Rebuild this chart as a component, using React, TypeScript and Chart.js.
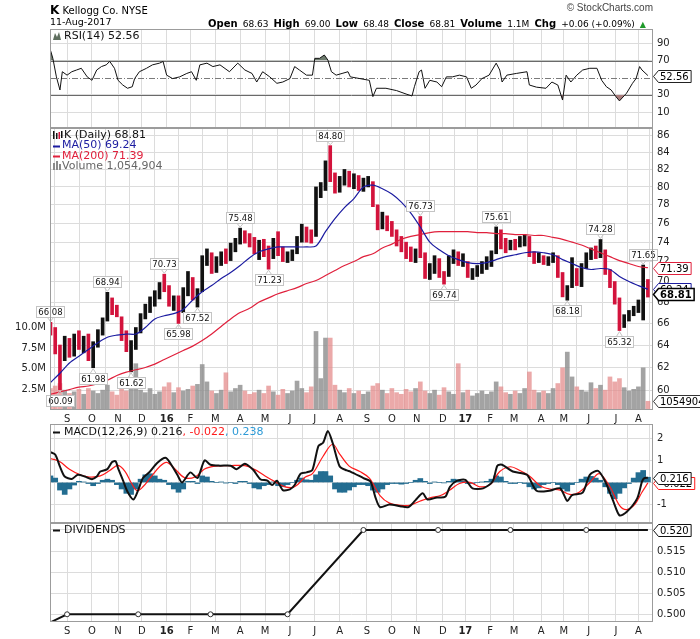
import React, { useEffect, useRef } from "react";
import { Chart, registerables } from "chart.js";

Chart.register(...registerables);

// ---------------- data ----------------
const MONTH_TICKS = [14, 35, 57, 77, 98, 118, 139, 160, 181, 202, 223, 244, 267, 288, 309, 331, 350, 371, 391, 414, 433, 454, 477, 496];
const MONTH_LABELS = ["S", "O", "N", "D", "16", "F", "M", "A", "M", "J", "J", "A", "S", "O", "N", "D", "17", "F", "M", "A", "M", "J", "J", "A"];
const X_MIN = -0.4;
const X_MAX = 508.3;

const BAR_STEP = 4; // trading days between plotted bars
const HIGHS = [
  66.08, 65.6, 64.0, 64.8, 64.6, 65.0, 65.3, 64.8, 65.0, 64.3,
  65.4, 66.5, 68.94, 68.4, 67.7, 66.6, 65.3, 64.4, 65.6, 66.9,
  67.8, 68.5, 69.1, 69.9, 70.73, 69.6, 68.6, 68.6, 69.4, 71.0,
  70.4, 69.3, 72.6, 73.3, 72.9, 72.5, 73.0, 73.3, 73.9, 74.4,
  75.48, 75.2, 74.9, 74.5, 74.2, 74.3, 73.6, 74.4, 75.1, 73.5,
  73.0, 73.2, 74.6, 75.9, 75.6, 75.3, 80.0, 80.5, 83.0, 84.8,
  81.6, 81.2, 82.0, 81.8, 81.5, 81.3, 81.0, 81.2, 80.6, 78.0,
  77.2, 76.8, 76.2, 75.3, 74.6, 74.0, 73.5, 73.3, 76.73, 72.9,
  71.8, 72.6, 72.3, 71.0, 72.6, 73.2, 73.0, 72.8, 72.0, 71.3,
  71.6, 72.0, 72.5, 73.1, 75.61, 75.3, 74.4, 74.2, 74.3, 74.6,
  74.8, 74.6, 73.0, 72.9, 72.6, 72.5, 72.9, 72.6, 70.9, 69.6,
  72.4, 71.3, 71.8, 72.9, 73.4, 73.6, 74.28, 73.2, 71.2, 70.0,
  68.4, 66.8, 67.2, 67.6, 68.2, 71.65, 70.2,
];
const LOWS = [
  64.9, 63.2, 60.09, 62.6, 62.9, 63.0, 63.6, 63.3, 62.6, 61.98,
  63.8, 64.9, 66.2, 66.8, 66.6, 64.4, 63.4, 61.62, 63.6, 65.1,
  66.4, 67.0, 67.6, 68.3, 69.0, 67.6, 67.2, 65.98, 67.0, 68.6,
  68.2, 67.52, 69.0, 71.6, 70.8, 70.9, 71.6, 71.8, 72.1, 73.0,
  73.8, 73.9, 73.5, 72.8, 72.2, 72.5, 71.23, 72.3, 72.6, 72.0,
  71.9, 72.1, 72.8, 74.0, 74.0, 73.9, 74.6, 78.8, 79.6, 80.6,
  79.3, 79.4, 80.2, 80.0, 79.8, 79.6, 79.5, 80.0, 77.8, 75.3,
  75.4, 75.2, 74.6, 73.6, 73.0, 72.3, 72.0, 71.9, 72.4, 70.3,
  70.2, 70.8, 70.4, 69.74, 70.5, 71.8, 71.6, 71.5, 70.4, 70.2,
  70.5, 70.8, 71.2, 71.5, 72.8, 73.3, 72.9, 73.2, 73.2, 73.5,
  73.6, 72.5, 71.8, 71.9, 71.7, 71.6, 71.9, 70.4, 68.5, 68.18,
  69.4, 69.6, 69.5, 71.3, 72.2, 72.3, 72.4, 70.7, 69.4, 67.8,
  65.32, 65.6, 66.2, 66.7, 67.0, 66.3, 68.48,
];
const CLOSES = [
  65.3, 63.6, 63.1, 64.0, 63.4, 64.6, 64.0, 64.4, 63.3, 64.1,
  65.2, 66.3, 68.2, 67.1, 67.0, 64.8, 63.8, 64.0, 65.3, 66.6,
  67.5, 68.2, 68.6, 69.5, 69.3, 68.0, 68.3, 67.4, 69.0, 70.3,
  68.6, 69.1, 72.2, 72.4, 71.4, 72.1, 72.6, 72.3, 73.6, 74.0,
  74.9, 74.4, 74.0, 73.1, 73.9, 72.8, 72.6, 74.0, 73.1, 72.4,
  72.7, 72.9, 74.3, 75.5, 74.6, 74.4, 79.5, 80.0, 82.6, 81.0,
  80.2, 80.7, 81.3, 80.5, 80.9, 80.2, 80.4, 80.6, 78.2, 75.8,
  76.4, 75.9, 75.0, 74.2, 73.4, 72.8, 72.4, 73.0, 72.8, 70.8,
  71.4, 72.2, 70.7, 70.6, 72.3, 72.7, 72.1, 72.4, 70.7, 71.0,
  71.3, 71.6, 72.2, 72.6, 74.8, 73.8, 73.5, 73.9, 73.7, 74.2,
  74.5, 72.8, 72.3, 72.5, 72.0, 72.1, 72.6, 70.8, 69.0, 69.3,
  71.0, 69.9, 71.5, 72.5, 73.0, 72.8, 73.1, 71.0, 69.8, 68.2,
  66.0, 66.5, 66.9, 67.3, 67.9, 70.5, 68.81,
];
// volume in millions of shares
const VOLUMES = [
  2.6, 2.9, 3.2, 2.4, 2.0, 2.2, 2.5, 1.9, 2.6, 2.3,
  2.0, 2.4, 3.0, 2.2, 1.8, 2.7, 2.3, 2.8, 5.6, 2.4,
  2.1, 2.6, 1.9, 2.2, 2.8, 3.3, 2.1, 2.7, 2.3, 2.5,
  2.9, 3.1, 5.5, 3.4, 2.3, 2.0, 2.4, 4.5, 2.2, 2.6,
  3.0, 2.3, 1.9, 2.1, 2.4, 2.0, 2.9, 2.2, 1.8, 2.5,
  2.0, 2.3, 3.5, 2.6, 2.1, 2.8, 9.5, 3.8, 8.7, 8.7,
  3.0, 2.4, 2.1, 2.6, 2.0, 2.3, 1.9, 2.2, 2.9, 3.2,
  2.4, 2.0, 2.6, 2.1, 1.9, 2.5, 2.2, 2.6, 3.4, 2.3,
  2.0, 2.4, 1.8, 2.7, 2.2, 1.9, 5.6, 2.1, 2.4, 1.7,
  2.0, 2.3, 1.9, 2.2, 3.4, 2.8, 2.1, 1.9, 2.3, 2.0,
  2.6, 4.6, 2.4, 2.1, 2.3, 2.0, 2.6, 3.2, 5.1, 7.0,
  4.0, 2.8, 2.4, 2.2, 3.3, 2.6, 3.0, 2.4, 4.0, 3.4,
  3.8, 2.7, 2.3, 2.5, 2.8, 5.1, 1.054904,
];

const MA_STEP = 8;
const MA50 = [
  60.7, 61.5, 62.4, 63.0, 63.6, 64.2, 64.7, 64.9, 65.0, 65.0,
  65.6, 66.4, 66.7, 66.9, 67.3, 68.2, 69.0, 69.6, 70.3, 70.9,
  71.6, 72.4, 73.0, 73.3, 73.5, 73.5, 73.5, 73.5, 73.6, 75.1,
  76.5, 77.7, 78.7, 80.0, 80.2, 79.8, 79.2, 78.3, 77.1, 75.6,
  74.0, 73.2, 72.6, 72.2, 71.9, 71.8, 71.9, 72.2, 72.5, 72.7,
  72.9, 73.0, 72.9, 72.7, 72.2, 71.8, 71.4, 71.2, 71.3, 71.2,
  70.5, 70.0, 69.6, 69.24,
];
const MA200 = [
  59.7, 59.9, 60.1, 60.3, 60.4, 60.6, 60.9, 61.3, 61.6, 61.8,
  62.0, 62.3, 62.7, 63.1, 63.5, 63.9, 64.4, 65.0, 65.7, 66.4,
  67.0, 67.4, 68.0, 68.4, 68.8, 69.1, 69.4, 69.8, 70.1, 70.6,
  71.1, 71.6, 72.0, 72.5, 72.8, 73.4, 73.8, 74.3, 74.6, 74.8,
  75.0, 75.1, 75.1, 75.1, 75.1, 75.0, 75.0, 74.9, 74.9, 74.8,
  74.8, 74.7, 74.7, 74.5, 74.3, 74.0, 73.7, 73.3, 72.9, 72.5,
  72.1, 71.8, 71.5, 71.39,
];
const PRICE_TICKS = [60, 62, 64, 66, 68, 70, 72, 74, 76, 78, 80, 82, 84, 86];
const VOL_TICKS = [2.5, 5, 7.5, 10];

const PEAK_BARS = [0, 2, 9, 12, 17, 24, 27, 31, 40, 46, 59, 78, 83, 94, 109, 116, 120, 125];
const PEAK_VALUES = [66.08, 60.09, 61.98, 68.94, 61.62, 70.73, 65.98, 67.52, 75.48, 71.23, 84.8, 76.73, 69.74, 75.61, 68.18, 74.28, 65.32, 71.65];
const PEAK_ABOVE = [true, false, false, true, false, true, false, false, true, false, true, true, false, true, false, true, false, true];

const RSI_X = [0, 2, 5, 8, 10, 14, 18, 22, 26, 31, 35, 39, 43, 47, 50, 54, 57, 61, 65, 69, 71, 75, 81, 86, 92, 95, 98, 103, 109, 115, 119, 123, 126, 132, 137, 143, 151, 158, 164, 170, 174, 179, 185, 191, 196, 202, 206, 210, 216, 221, 223, 227, 231, 234, 237, 241, 246, 251, 253, 261, 269, 272, 275, 283, 292, 300, 305, 307, 311, 313, 316, 320, 326, 330, 334, 339, 345, 351, 355, 359, 364, 370, 376, 379, 381, 385, 393, 402, 404, 410, 418, 423, 428, 432, 435, 439, 444, 449, 455, 461, 465, 469, 473, 477, 480, 486, 491, 494, 497, 499, 504];
const RSI_V = [82, 72.6, 51, 35.7, 57, 53, 57, 59, 61, 51, 47, 59, 63, 65, 69, 61, 47, 41.5, 37.7, 39.5, 49, 57, 61, 65, 67, 69, 53, 49, 51, 55, 57, 47, 65, 67, 63, 65, 57, 67, 59, 55, 45, 57, 51, 43.5, 45, 49, 63, 59, 53, 53, 72.6, 72.6, 76.5, 70.7, 57, 53, 55, 57, 51, 49, 47, 28, 37.7, 37.7, 35, 31, 28.7, 39.5, 57, 59, 37.7, 47, 45, 39.5, 51, 51, 53, 51, 37.7, 41.5, 49, 53, 67, 59, 45, 53, 55, 57, 41.5, 39, 37.7, 45, 41.5, 24, 53, 45, 53, 59, 61, 61, 47, 39.5, 35.7, 28, 23, 32, 43.5, 49, 63, 59, 52.56];
const RSI_TICKS = [10, 30, 70, 90];

const MACD_X = [0, 4, 8, 12, 18, 23, 29, 35, 39, 42, 48, 52, 55, 57, 61, 65, 70, 74, 78, 84, 90, 97, 101, 107, 111, 118, 124, 130, 135, 143, 152, 157, 164, 171, 177, 183, 187, 191, 196, 202, 206, 211, 216, 221, 226, 230, 234, 238, 244, 250, 253, 264, 270, 274, 278, 286, 295, 302, 308, 314, 318, 326, 333, 337, 343, 350, 356, 365, 373, 377, 381, 390, 402, 410, 421, 430, 436, 440, 449, 455, 462, 468, 475, 480, 486, 495, 499, 501, 504];
const MACD_V = [1.39, 1.28, 0.73, 0.27, 0.16, 0.35, 0.27, 0.15, 0.27, 0.5, 0.61, 0.94, 0.97, 0.66, 0.12, -0.43, -0.78, -0.35, 0.2, 0.5, 0.89, 1.13, 0.89, 0.35, 0.0, 0.46, 0.2, 1.01, 0.81, 0.77, 0.77, 0.61, 0.86, 0.58, 0.15, 0.08, -0.12, 0.08, -0.35, -0.32, -0.12, 0.4, 0.46, 0.58, 1.67, 1.82, 2.36, 1.82, 0.73, 0.55, 0.5, 0.2, 0.04, -0.66, -1.13, -1.01, -1.09, -1.13, -0.81, -0.5, -0.78, -0.69, -0.66, -0.2, 0.08, 0.12, -0.27, -0.27, 0.04, 0.77, 0.81, 0.5, 0.35, -0.38, -0.38, -0.27, -0.85, -0.58, -0.47, 0.35, 0.53, 0.04, -0.89, -1.51, -1.36, -0.73, 0.04, 0.2, 0.216];
const SIG_X = [0, 8, 16, 25, 33, 42, 50, 57, 63, 68, 73, 78, 84, 92, 98, 105, 113, 122, 130, 139, 151, 164, 172, 181, 189, 198, 206, 215, 221, 230, 238, 244, 252, 261, 269, 278, 286, 295, 303, 312, 320, 329, 337, 345, 354, 362, 371, 379, 388, 396, 404, 413, 421, 430, 438, 446, 455, 463, 472, 480, 486, 493, 499, 504];
const SIG_V = [1.1, 0.95, 0.6, 0.35, 0.25, 0.3, 0.55, 0.78, 0.5, 0.0, -0.38, -0.2, 0.2, 0.72, 0.92, 0.62, 0.22, 0.25, 0.62, 0.75, 0.77, 0.77, 0.6, 0.3, 0.05, -0.2, -0.2, 0.25, 0.4, 1.2, 1.75, 1.3, 0.75, 0.5, 0.2, -0.6, -0.95, -1.05, -1.05, -0.85, -0.7, -0.6, -0.35, -0.05, 0.0, -0.2, -0.1, 0.5, 0.72, 0.55, 0.3, -0.15, -0.3, -0.35, -0.55, -0.45, 0.0, 0.4, -0.2, -1.05, -1.25, -1.0, -0.45, -0.022];
const HIST = [
  0.3, 0.2, -0.35, -0.55, -0.3, -0.12, 0.05, 0.02, -0.05, -0.15,
  -0.05, 0.1, 0.15, 0.1, -0.1, -0.3, -0.5, -0.55, -0.3, 0.15,
  0.35, 0.4, 0.3, 0.15, 0.1, -0.1, -0.3, -0.45, -0.3, 0.05,
  0.05, -0.05, 0.3, 0.25, 0.05, 0.0, 0.02, -0.03, 0.0, -0.05,
  0.05, 0.05, -0.05, -0.25, -0.3, -0.15, -0.1, 0.02, -0.15, -0.2,
  -0.1, 0.0, 0.1, 0.2, 0.12, 0.1, 0.35, 0.5, 0.5, 0.3,
  -0.3, -0.45, -0.45, -0.35, -0.2, -0.1, -0.1, -0.15, -0.35, -0.45,
  -0.3, -0.1, -0.05, -0.05, -0.08, -0.05, 0.0, 0.1, 0.18, 0.05,
  -0.05, 0.02, 0.0, -0.02, 0.05, 0.15, 0.12, 0.05, -0.05, -0.05,
  0.0, 0.02, 0.05, 0.15, 0.3, 0.25, 0.05, -0.05, -0.05, 0.0,
  -0.05, -0.2, -0.3, -0.25, -0.1, -0.05, 0.0, -0.1, -0.3, -0.4,
  -0.1, 0.0, 0.15, 0.25, 0.28, 0.2, 0.1, -0.2, -0.5, -0.75,
  -0.5, -0.25, -0.05, 0.2, 0.45, 0.55, 0.238,
];
const MACD_TICKS = [-1, 0, 1, 2];

const DIV_X = [-60, 14, 74, 135, 200, 264, 327, 388, 452];
const DIV_V = [0.49, 0.5, 0.5, 0.5, 0.5, 0.52, 0.52, 0.52, 0.52];
const DIV_TICKS = [0.5, 0.505, 0.51, 0.515, 0.52];
const LAST_DAY = 504;

// ---------------- styles ----------------
const FAMILY = "DejaVu Sans";
const GRID = "#dcdcdc";
const FRAME = "#9c9c9c";
const AXIS_W = 47;
const PLOT_LEFT = 50;
const fnt = (size: number, bold = false) => `${bold ? "bold " : ""}${size}px "${FAMILY}"`;
const last = (a: number[]) => a[a.length - 1];

function zeroPad(s: any) {
  s.paddingLeft = 0;
  s.paddingRight = 0;
  s.paddingTop = 0;
  s.paddingBottom = 0;
}

function xScale(showLabels: boolean, height: number): any {
  return {
    type: "linear",
    min: X_MIN,
    max: X_MAX,
    offset: false,
    afterBuildTicks: (s: any) => {
      s.ticks = MONTH_TICKS.map((v) => ({ value: v }));
    },
    afterFit: (s: any) => {
      s.height = height;
      zeroPad(s);
    },
    grid: { color: GRID, lineWidth: 1, drawTicks: false },
    border: { display: false },
    ticks: {
      display: showLabels,
      autoSkip: false,
      maxRotation: 0,
      minRotation: 0,
      padding: 3,
      color: "#222",
      font: (c: any) => ({
        family: FAMILY,
        size: 10,
        weight: /^\d/.test(MONTH_LABELS[c.index] || "") ? "bold" : "normal",
      }),
      callback: (_v: any, i: number) => MONTH_LABELS[i],
    },
  };
}

function yRight(min: number, max: number, ticks: number[], cb: (v: number) => string, extra: any = {}): any {
  return {
    position: "right",
    min,
    max,
    afterBuildTicks: (s: any) => {
      s.ticks = ticks.map((v) => ({ value: v }));
    },
    afterFit: (s: any) => {
      s.width = AXIS_W;
      zeroPad(s);
    },
    grid: { color: GRID, lineWidth: 1, drawTicks: false },
    border: { display: false },
    ticks: { padding: 4, color: "#222", font: { family: FAMILY, size: 10 }, callback: (v: any) => cb(Number(v)) },
    ...extra,
  };
}

function drawFrame(chart: any) {
  const { ctx, chartArea: a } = chart;
  ctx.save();
  ctx.strokeStyle = FRAME;
  ctx.lineWidth = 1;
  const l = Math.round(a.left) + 0.5;
  const t = Math.round(a.top) + 0.5;
  ctx.strokeRect(l, t, Math.round(a.right) - Math.round(a.left) - 1, Math.round(a.bottom) - Math.round(a.top) - 1);
  ctx.restore();
}

function drawTag(ctx: CanvasRenderingContext2D, x: number, y: number, text: string, color: string, bold = false) {
  ctx.save();
  ctx.font = fnt(10, bold);
  const w = ctx.measureText(text).width + 4;
  const h = 12;
  const bx = x + 5;
  const yy = Math.round(y) + 0.5;
  ctx.beginPath();
  ctx.moveTo(x + 0.5, yy);
  ctx.lineTo(bx + 0.5, yy - h / 2);
  ctx.lineTo(bx + w + 0.5, yy - h / 2);
  ctx.lineTo(bx + w + 0.5, yy + h / 2);
  ctx.lineTo(bx + 0.5, yy + h / 2);
  ctx.closePath();
  ctx.fillStyle = "#fff";
  ctx.fill();
  ctx.strokeStyle = color;
  ctx.lineWidth = bold ? 1.5 : 1;
  ctx.stroke();
  ctx.fillStyle = "#000";
  ctx.textBaseline = "middle";
  ctx.textAlign = "left";
  ctx.fillText(text, bx + 2, yy + 0.5);
  ctx.restore();
}

function drawPeak(ctx: CanvasRenderingContext2D, x: number, y: number, text: string, above: boolean) {
  ctx.save();
  ctx.font = fnt(8.5);
  const w = Math.round(ctx.measureText(text).width + 4);
  const h = 11;
  const gap = 5;
  const bx = Math.round(x - w / 2) + 0.5;
  const by = Math.round(above ? y - gap - h : y + gap) + 0.5;
  ctx.strokeStyle = "#c4c4c4";
  ctx.lineWidth = 1;
  ctx.beginPath();
  if (above) {
    ctx.moveTo(x - 3, by + h);
    ctx.lineTo(x, y - 1);
    ctx.lineTo(x + 3, by + h);
  } else {
    ctx.moveTo(x - 3, by);
    ctx.lineTo(x, y + 1);
    ctx.lineTo(x + 3, by);
  }
  ctx.stroke();
  ctx.fillStyle = "#fff";
  ctx.fillRect(bx, by, w, h);
  ctx.strokeRect(bx, by, w, h);
  ctx.fillStyle = "#111";
  ctx.textAlign = "center";
  ctx.textBaseline = "middle";
  ctx.fillText(text, bx + w / 2, by + h / 2 + 0.5);
  ctx.restore();
}

function legendText(ctx: CanvasRenderingContext2D, parts: [string, string][], x: number, y: number, size = 11) {
  ctx.save();
  ctx.font = fnt(size);
  ctx.textBaseline = "middle";
  ctx.textAlign = "left";
  let cx = x;
  for (const [t, c] of parts) {
    ctx.fillStyle = c;
    ctx.fillText(t, cx, y);
    cx += ctx.measureText(t).width;
  }
  ctx.restore();
}

function dash(ctx: CanvasRenderingContext2D, x: number, y: number, color: string) {
  ctx.save();
  ctx.strokeStyle = color;
  ctx.lineWidth = 2;
  ctx.beginPath();
  ctx.moveTo(x, Math.round(y) + 0.5);
  ctx.lineTo(x + 7, Math.round(y) + 0.5);
  ctx.stroke();
  ctx.restore();
}

const baseOptions = (padding: any) => ({
  responsive: false,
  animation: false,
  events: [],
  layout: { padding },
  plugins: { legend: { display: false }, tooltip: { enabled: false } },
});

// ---------------- configs ----------------
function rsiConfig(): any {
  const pts = RSI_X.map((x, i) => ({ x, y: RSI_V[i] }));
  return {
    type: "line",
    data: {
      datasets: [
        {
          data: pts,
          borderColor: "#111",
          borderWidth: 1,
          pointRadius: 0,
          fill: { target: { value: 70 }, above: "#6f7d6f", below: "rgba(0,0,0,0)" },
          order: 1,
        },
        {
          data: pts,
          borderColor: "rgba(0,0,0,0)",
          borderWidth: 0,
          pointRadius: 0,
          fill: { target: { value: 30 }, above: "rgba(0,0,0,0)", below: "#a87c7c" },
          order: 2,
        },
      ],
    },
    options: {
      ...baseOptions({ top: 29, left: PLOT_LEFT, right: 0, bottom: 0 }),
      scales: {
        x: xScale(false, 0),
        y: yRight(-8.6, 106.8, RSI_TICKS, (v) => String(v)),
      },
    },
    plugins: [
      {
        id: "rsiExtras",
        beforeDatasetsDraw(chart: any) {
          const { ctx, chartArea: a, scales } = chart;
          const y = scales.y;
          ctx.save();
          ctx.strokeStyle = "#6a6a6a";
          ctx.lineWidth = 1;
          for (const v of [70, 30]) {
            const py = Math.round(y.getPixelForValue(v)) + 0.5;
            ctx.beginPath();
            ctx.moveTo(a.left, py);
            ctx.lineTo(a.right, py);
            ctx.stroke();
          }
          ctx.strokeStyle = "#7a7a7a";
          ctx.setLineDash([6, 2, 1, 2]);
          const p50 = Math.round(y.getPixelForValue(50)) + 0.5;
          ctx.beginPath();
          ctx.moveTo(a.left, p50);
          ctx.lineTo(a.right, p50);
          ctx.stroke();
          ctx.restore();
        },
        afterDraw(chart: any) {
          const { ctx, chartArea: a, scales } = chart;
          drawFrame(chart);
          const ly = a.top + 7;
          ctx.save();
          ctx.fillStyle = "#5f6f5f";
          ctx.beginPath();
          ctx.moveTo(53, ly + 4);
          ctx.lineTo(55, ly - 3);
          ctx.lineTo(57, ly + 1);
          ctx.lineTo(59, ly - 4);
          ctx.lineTo(61, ly + 4);
          ctx.closePath();
          ctx.fill();
          ctx.restore();
          legendText(ctx, [[`RSI(14) ${last(RSI_V).toFixed(2)}`, "#111"]], 64, ly);
          drawTag(ctx, a.right, scales.y.getPixelForValue(last(RSI_V)), last(RSI_V).toFixed(2), "#222");
        },
      },
    ],
  };
}

function priceConfig(): any {
  const xs = HIGHS.map((_, i) => i * BAR_STEP);
  const up = CLOSES.map((c, i) => (i === 0 ? false : c >= CLOSES[i - 1]));
  const maX = MA50.map((_, k) => k * MA_STEP);
  return {
    type: "bar",
    data: {
      datasets: [
        {
          type: "bar",
          yAxisID: "vol",
          data: VOLUMES.map((v, i) => ({ x: xs[i], y: v })),
          backgroundColor: up.map((u) => (u ? "rgba(140,140,140,0.8)" : "rgba(228,140,140,0.75)")),
          barThickness: 4,
          grouped: false,
          order: 4,
        },
        {
          type: "bar",
          yAxisID: "y",
          data: HIGHS.map((h, i) => ({ x: xs[i], y: [LOWS[i], h] })),
          backgroundColor: up.map((u) => (u ? "#111111" : "#d3133c")),
          barThickness: 3,
          grouped: false,
          order: 3,
        },
        {
          type: "line",
          yAxisID: "y",
          data: MA200.map((v, k) => ({ x: maX[k], y: v })),
          borderColor: "#e0203c",
          borderWidth: 1.2,
          pointRadius: 0,
          tension: 0.3,
          order: 2,
        },
        {
          type: "line",
          yAxisID: "y",
          data: MA50.map((v, k) => ({ x: maX[k], y: v })),
          borderColor: "#1b1ba0",
          borderWidth: 1.2,
          pointRadius: 0,
          tension: 0.3,
          order: 1,
        },
      ],
    },
    options: {
      ...baseOptions({ top: 0, left: 0, right: 0, bottom: 0 }),
      scales: {
        x: xScale(true, 18),
        y: yRight(58.39, 86.94, PRICE_TICKS, (v) => String(v), { type: "logarithmic" }),
        vol: {
          type: "linear",
          position: "left",
          min: 0,
          max: 34.1,
          afterBuildTicks: (s: any) => {
            s.ticks = VOL_TICKS.map((v) => ({ value: v }));
          },
          afterFit: (s: any) => {
            s.width = PLOT_LEFT;
            zeroPad(s);
          },
          grid: { display: false, drawTicks: false, drawOnChartArea: false },
          border: { display: false },
          ticks: {
            padding: 4,
            color: "#222",
            font: { family: FAMILY, size: 10 },
            callback: (v: any) => Number(v).toFixed(1) + "M",
          },
        },
      },
    },
    plugins: [
      {
        id: "priceExtras",
        afterDatasetsDraw(chart: any) {
          const { ctx, scales } = chart;
          PEAK_BARS.forEach((b, k) => {
            const px = scales.x.getPixelForValue(b * BAR_STEP);
            const py = scales.y.getPixelForValue(PEAK_VALUES[k]);
            drawPeak(ctx, px, py, PEAK_VALUES[k].toFixed(2), PEAK_ABOVE[k]);
          });
        },
        afterDraw(chart: any) {
          const { ctx, chartArea: a, scales } = chart;
          drawFrame(chart);
          const t = a.top;
          // legend icons
          ctx.save();
          ctx.fillStyle = "#111";
          ctx.fillRect(53, t + 3, 1.5, 8);
          ctx.fillRect(56, t + 5, 1.5, 6);
          ctx.fillStyle = "#d3133c";
          ctx.fillRect(58.5, t + 4, 1.5, 7);
          ctx.fillStyle = "#111";
          ctx.fillRect(61, t + 3, 1.5, 7);
          ctx.fillStyle = "#8a8a8a";
          ctx.fillRect(53, t + 35, 2, 7);
          ctx.fillRect(56, t + 33, 2, 9);
          ctx.fillRect(59, t + 36, 2, 6);
          ctx.restore();
          legendText(ctx, [[`K (Daily) ${last(CLOSES).toFixed(2)}`, "#111"]], 64, t + 7);
          dash(ctx, 53, t + 17.5, "#1b1ba0");
          legendText(ctx, [[`MA(50) ${last(MA50).toFixed(2)}`, "#1b1ba0"]], 62, t + 17.5);
          dash(ctx, 53, t + 28, "#e0203c");
          legendText(ctx, [[`MA(200) ${last(MA200).toFixed(2)}`, "#e0203c"]], 62, t + 28);
          const volNow = Math.round(last(VOLUMES) * 1e6);
          legendText(ctx, [[`Volume ${volNow.toLocaleString("en-US")}`, "#666"]], 62, t + 38.5);
          // right tags
          drawTag(ctx, a.right, scales.vol.getPixelForValue(last(VOLUMES)), String(volNow), "#333");
          drawTag(ctx, a.right, scales.y.getPixelForValue(last(MA200)), last(MA200).toFixed(2), "#e0203c");
          drawTag(ctx, a.right, scales.y.getPixelForValue(last(MA50)), last(MA50).toFixed(2), "#1b1ba0");
          drawTag(ctx, a.right, scales.y.getPixelForValue(last(CLOSES)), last(CLOSES).toFixed(2), "#000", true);
        },
      },
    ],
  };
}

function macdConfig(): any {
  return {
    type: "bar",
    data: {
      datasets: [
        {
          type: "bar",
          data: HIST.map((v, i) => ({ x: i * BAR_STEP, y: v })),
          backgroundColor: "#236d91",
          barThickness: 5,
          grouped: false,
          order: 3,
        },
        {
          type: "line",
          data: SIG_X.map((x, i) => ({ x, y: SIG_V[i] })),
          borderColor: "#ff1a1a",
          borderWidth: 1.2,
          pointRadius: 0,
          tension: 0.35,
          order: 2,
        },
        {
          type: "line",
          data: MACD_X.map((x, i) => ({ x, y: MACD_V[i] })),
          borderColor: "#111",
          borderWidth: 2,
          pointRadius: 0,
          tension: 0.25,
          order: 1,
        },
      ],
    },
    options: {
      ...baseOptions({ top: 0, left: PLOT_LEFT, right: 0, bottom: 0 }),
      scales: {
        x: xScale(false, 0),
        y: yRight(-1.86, 2.68, MACD_TICKS, (v) => (v === 0 ? "" : String(v))),
      },
    },
    plugins: [
      {
        id: "macdExtras",
        afterDraw(chart: any) {
          const { ctx, chartArea: a, scales } = chart;
          drawFrame(chart);
          const ly = a.top + 8;
          dash(ctx, 53, ly, "#111");
          legendText(
            ctx,
            [
              [`MACD(12,26,9) ${last(MACD_V).toFixed(3)}`, "#111"],
              [`, ${last(SIG_V).toFixed(3)}`, "#ff1a1a"],
              [`, ${last(HIST).toFixed(3)}`, "#2e9ad6"],
            ],
            64,
            ly
          );
          drawTag(ctx, a.right, scales.y.getPixelForValue(last(SIG_V)), last(SIG_V).toFixed(3), "#ff1a1a");
          drawTag(ctx, a.right, scales.y.getPixelForValue(last(MACD_V)), last(MACD_V).toFixed(3), "#111");
        },
      },
    ],
  };
}

function divConfig(): any {
  const pts = DIV_X.map((x, i) => ({ x, y: DIV_V[i] }));
  pts.push({ x: LAST_DAY, y: last(DIV_V) });
  const radii = pts.map((p, i) => (p.x < X_MIN || i === pts.length - 1 ? 0 : 2.5));
  return {
    type: "line",
    data: {
      datasets: [
        {
          data: pts,
          borderColor: "#111",
          borderWidth: 2,
          pointRadius: radii,
          pointBackgroundColor: "#fff",
          pointBorderColor: "#333",
          pointBorderWidth: 1,
          tension: 0,
        },
      ],
    },
    options: {
      ...baseOptions({ top: 0, left: PLOT_LEFT, right: 0, bottom: 0 }),
      scales: {
        x: xScale(true, 17),
        y: yRight(0.49817, 0.52166, DIV_TICKS, (v) => (Math.abs(v - 0.52) < 1e-9 ? "" : v.toFixed(3))),
      },
    },
    plugins: [
      {
        id: "divExtras",
        afterDraw(chart: any) {
          const { ctx, chartArea: a, scales } = chart;
          drawFrame(chart);
          const ly = a.top + 7;
          dash(ctx, 53, ly, "#111");
          legendText(ctx, [["DIVIDENDS", "#111"]], 64, ly);
          drawTag(ctx, a.right, scales.y.getPixelForValue(last(DIV_V)), last(DIV_V).toFixed(3), "#111");
        },
      },
    ],
  };
}

// ---------------- components ----------------
function Panel({ top, height, make }: { top: number; height: number; make: () => any }) {
  const ref = useRef<HTMLCanvasElement>(null);
  useEffect(() => {
    const chart = new Chart(ref.current as HTMLCanvasElement, make());
    return () => chart.destroy();
  }, []);
  return (
    <div style={{ position: "absolute", left: 0, top, width: 700, height }}>
      <canvas ref={ref} width={700} height={height} style={{ width: 700, height, display: "block" }} />
    </div>
  );
}

export default function App() {
  const val: React.CSSProperties = { fontSize: 9, fontWeight: "normal" };
  const lab: React.CSSProperties = { fontSize: 10, fontWeight: "bold" };
  return (
    <div
      style={{
        position: "absolute",
        left: 0,
        top: 0,
        width: 700,
        height: 639,
        background: "#fff",
        overflow: "hidden",
        fontFamily: `"${FAMILY}", sans-serif`,
        color: "#000",
      }}
    >
      <Panel top={0} height={128} make={rsiConfig} />
      <Panel top={128} height={300} make={priceConfig} />
      <Panel top={424} height={99} make={macdConfig} />
      <Panel top={523} height={116} make={divConfig} />
      <div style={{ position: "absolute", left: 50, top: 2, whiteSpace: "nowrap", lineHeight: "14px" }}>
        <span style={{ fontSize: 12, fontWeight: "bold" }}>K</span>
        <span style={{ fontSize: 10 }}> Kellogg Co. NYSE</span>
      </div>
      <div style={{ position: "absolute", left: 50, top: 16, fontSize: 9.5, whiteSpace: "nowrap", lineHeight: "12px" }}>
        11-Aug-2017
      </div>
      <div
        style={{
          position: "absolute",
          right: 47,
          top: 1,
          fontSize: 10,
          color: "#444",
          whiteSpace: "nowrap",
          lineHeight: "14px",
          fontFamily: '"Liberation Sans", sans-serif',
        }}
      >
        © StockCharts.com
      </div>
      <div style={{ position: "absolute", right: 54, top: 16, whiteSpace: "nowrap", lineHeight: "12px" }}>
        <span style={lab}>Open</span> <span style={val}>68.63</span> <span style={lab}>High</span>{" "}
        <span style={val}>69.00</span> <span style={lab}>Low</span> <span style={val}>68.48</span>{" "}
        <span style={lab}>Close</span> <span style={val}>68.81</span> <span style={lab}>Volume</span>{" "}
        <span style={val}>1.1M</span> <span style={lab}>Chg</span> <span style={val}>+0.06 (+0.09%)</span>{" "}
        <span style={{ fontSize: 8, color: "#1f9a2a" }}>▲</span>
      </div>
    </div>
  );
}
